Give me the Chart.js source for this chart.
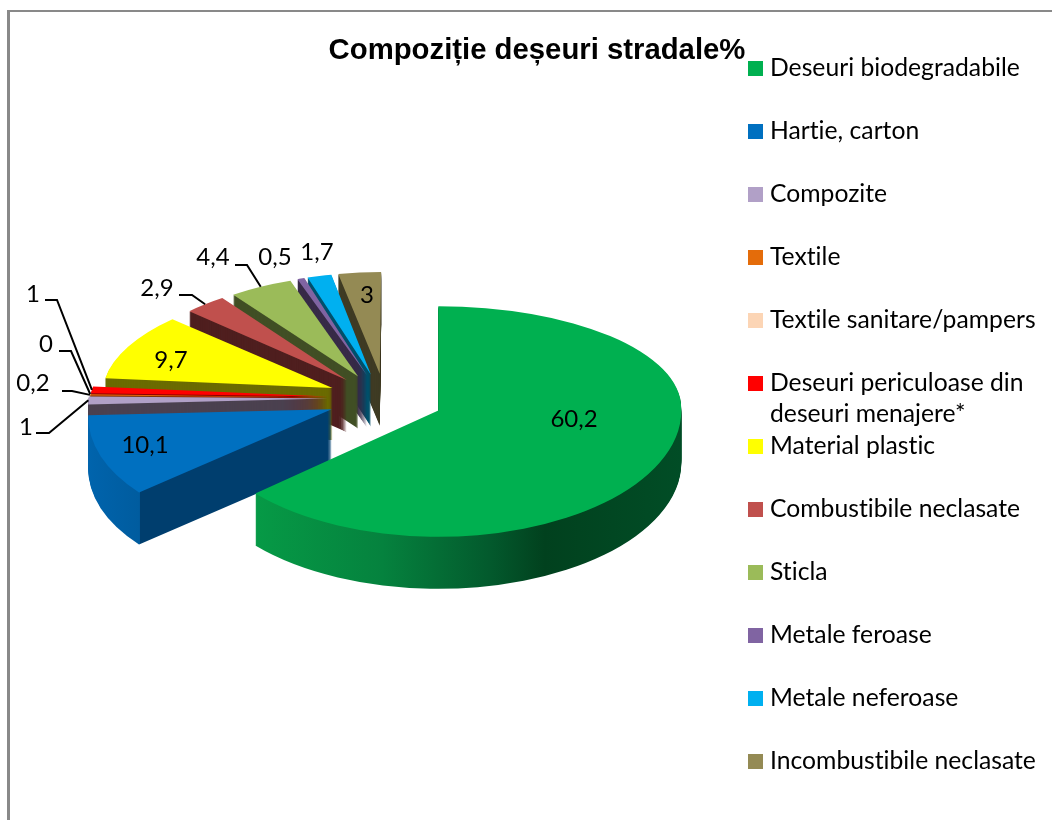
<!DOCTYPE html>
<html>
<head>
<meta charset="utf-8">
<title>Compoziție deșeuri stradale%</title>
<script src="https://cdn.jsdelivr.net/npm/chart.js@4/dist/chart.umd.min.js"></script>
<style>
  body { margin: 0; background: #fff; }
  #frame { position: absolute; left: 7px; top: 10px; right: 0; bottom: 0; border-left: 3px solid #898989; border-top: 2px solid #898989; }
  #chart { position: absolute; left: 0; top: 0; }
</style>
</head>
<body>
<div id="frame"></div>
<canvas id="chart" width="1052" height="820"></canvas>
<script>
const categories = [
  "Deseuri biodegradabile",
  "Hartie, carton",
  "Compozite",
  "Textile",
  "Textile sanitare/pampers",
  ["Deseuri periculoase din", "deseuri menajere*"],
  "Material plastic",
  "Combustibile neclasate",
  "Sticla",
  "Metale feroase",
  "Metale neferoase",
  "Incombustibile neclasate",
];
const values = [60.2, 10.1, 1, 0.2, 0, 1, 9.7, 2.9, 4.4, 0.5, 1.7, 3];
const valueLabels = ["60,2", "10,1", "1", "0,2", "0", "1", "9,7", "2,9", "4,4", "0,5", "1,7", "3"];

const topColors = ["#00b050", "#0070c0", "#b1a0c7", "#e46c0a", "#fcd5b5", "#ff0000", "#ffff00", "#c0504d", "#9bbb59", "#8064a2", "#00b0f0", "#948a54"];
const wallColors = ["#00602c", "#003e6e", "#4b4150", "#7a3a05", "#80705f", "#8a0000", "#6b6b00", "#4f1f1f", "#414f25", "#372a47", "#00506b", "#3f3b24"];

const radius = 243;
const explode = 58;
const centerX = 385.5;
const centerY = 398;
const squashBack = 0.419; // above centerY
const squashFront = 0.52; // below centerY
const depth = 52;
const narrowBack = 0.09; // slices at the back look narrower
const perspective = 0.00027; // and lean towards the middle

const labelFont = '24px Lato';
const legendFont = '24.7px Lato';
const labelSpots = [[574, 419], [145, 445], [26, 427], [33, 383], [46, 344], [33, 294], [171, 360], [157, 288], [213, 257], [275, 257], [317, 252], [367, 295]];
// start of the leader line: [label side x, elbow x, y]
const leaders = { 2: [36, 49, 433], 3: [62, 72, 391], 4: [59, 71, 351], 5: [45, 57, 300], 7: [179, 192, 295], 8: [235, 247, 265] };

function midAngle(arc) {
  return (arc.startAngle + arc.endAngle) / 2;
}

function sliceShape(arc) {
  const mid = midAngle(arc);
  const small = arc.endAngle - arc.startAngle < Math.PI;
  return {
    apexX: centerX + explode * Math.cos(mid),
    apexY: explode * Math.sin(mid),
    scaleX: 1 - narrowBack * Math.max(0, 0.2 - Math.sin(mid)),
    lean: small ? perspective * radius * Math.cos(mid) : 0,
  };
}

function wallFill(ctx, i, arc) {
  if (i === 0) {
    const g = ctx.createLinearGradient(arc.x - 184, 0, arc.x + radius, 0);
    g.addColorStop(0, "#069a46");
    g.addColorStop(0.3, "#05823e");
    g.addColorStop(0.55, "#035a2d");
    g.addColorStop(0.68, "#01411e");
    g.addColorStop(1, "#014d26");
    return g;
  }
  if (i === 1) {
    const corner = arc.x + radius * Math.cos(arc.startAngle);
    const g = ctx.createLinearGradient(arc.x - radius, 0, corner + 1, 0);
    g.addColorStop(0, "#0064ad");
    g.addColorStop(0.99, "#005c9f");
    g.addColorStop(1, wallColors[1]);
    return g;
  }
  return wallColors[i];
}

function paintSlice(ctx, arc, fill, shift) {
  const s = sliceShape(arc);
  const painter = Object.create(arc);
  painter.options = Object.assign({}, arc.options, { backgroundColor: fill, borderWidth: 0 });
  [[squashBack, 0, centerY + shift], [squashFront, centerY + shift, 820]].forEach(function (part) {
    ctx.save();
    ctx.beginPath();
    ctx.rect(0, part[1], 1052, part[2] - part[1]);
    ctx.clip();
    ctx.translate(s.apexX, centerY + shift);
    ctx.scale(s.scaleX, part[0]);
    ctx.translate(0, s.apexY);
    ctx.transform(1, 0, s.lean, 1, 0, 0);
    ctx.translate(-arc.x, -arc.y);
    painter.draw(ctx);
    ctx.restore();
  });
}

function rimPoint(arc) {
  const s = sliceShape(arc);
  const mid = midAngle(arc);
  const rimY = radius * Math.sin(mid);
  const y = s.apexY + rimY;
  return {
    x: s.apexX + (radius * Math.cos(mid) + s.lean * rimY) * s.scaleX,
    y: centerY + y * (y < 0 ? squashBack : squashFront),
  };
}

const pie3d = {
  id: "pie3d",
  beforeDatasetsDraw(chart) {
    const ctx = chart.ctx;
    const arcs = chart.getDatasetMeta(0).data;
    // back slices first, the big green one last
    for (let i = arcs.length - 1; i >= 0; i--) {
      const wall = wallFill(ctx, i, arcs[i]);
      for (let d = depth; d > 0; d--) {
        paintSlice(ctx, arcs[i], wall, d);
      }
      paintSlice(ctx, arcs[i], topColors[i], 0);
    }
    return false;
  },
  afterDraw(chart) {
    const ctx = chart.ctx;
    const arcs = chart.getDatasetMeta(0).data;
    ctx.save();

    // leader lines
    ctx.strokeStyle = "#000";
    ctx.lineWidth = 2;
    Object.keys(leaders).forEach(function (i) {
      const p = rimPoint(arcs[i]);
      ctx.beginPath();
      ctx.moveTo(leaders[i][0], leaders[i][2]);
      ctx.lineTo(leaders[i][1], leaders[i][2]);
      ctx.lineTo(p.x, p.y);
      ctx.stroke();
    });

    // value labels
    ctx.letterSpacing = "0.01px"; // no "ti" ligature in Lato
    ctx.font = labelFont;
    ctx.fillStyle = "#000";
    ctx.textAlign = "center";
    ctx.textBaseline = "middle";
    valueLabels.forEach(function (text, i) {
      ctx.fillText(text, labelSpots[i][0], labelSpots[i][1]);
    });

    // legend, fixed row pitch even for the two line entry
    ctx.font = legendFont;
    ctx.textAlign = "left";
    categories.forEach(function (name, i) {
      const y = 68.5 + 63 * i;
      ctx.fillStyle = topColors[i];
      ctx.fillRect(748, y - 7.5, 15, 15);
      ctx.fillStyle = "#000";
      [].concat(name).forEach(function (line, n) {
        ctx.fillText(line, 770, y + n * 31);
      });
    });
    ctx.restore();
  },
};

new Chart(document.getElementById("chart"), {
  type: "pie",
  data: {
    labels: categories,
    datasets: [{ data: values, backgroundColor: topColors, borderWidth: 0, radius: radius }],
  },
  options: {
    responsive: false,
    animation: false,
    layout: { padding: { left: 22 } },
    plugins: {
      legend: { display: false },
      tooltip: { enabled: false },
      title: {
        display: true,
        text: "Compoziție deșeuri stradale%",
        color: "#000",
        font: { family: "Liberation Sans", size: 29.3, weight: "bold" },
        padding: { top: 33, bottom: 10 },
      },
    },
  },
  plugins: [pie3d],
});
</script>
</body>
</html>
